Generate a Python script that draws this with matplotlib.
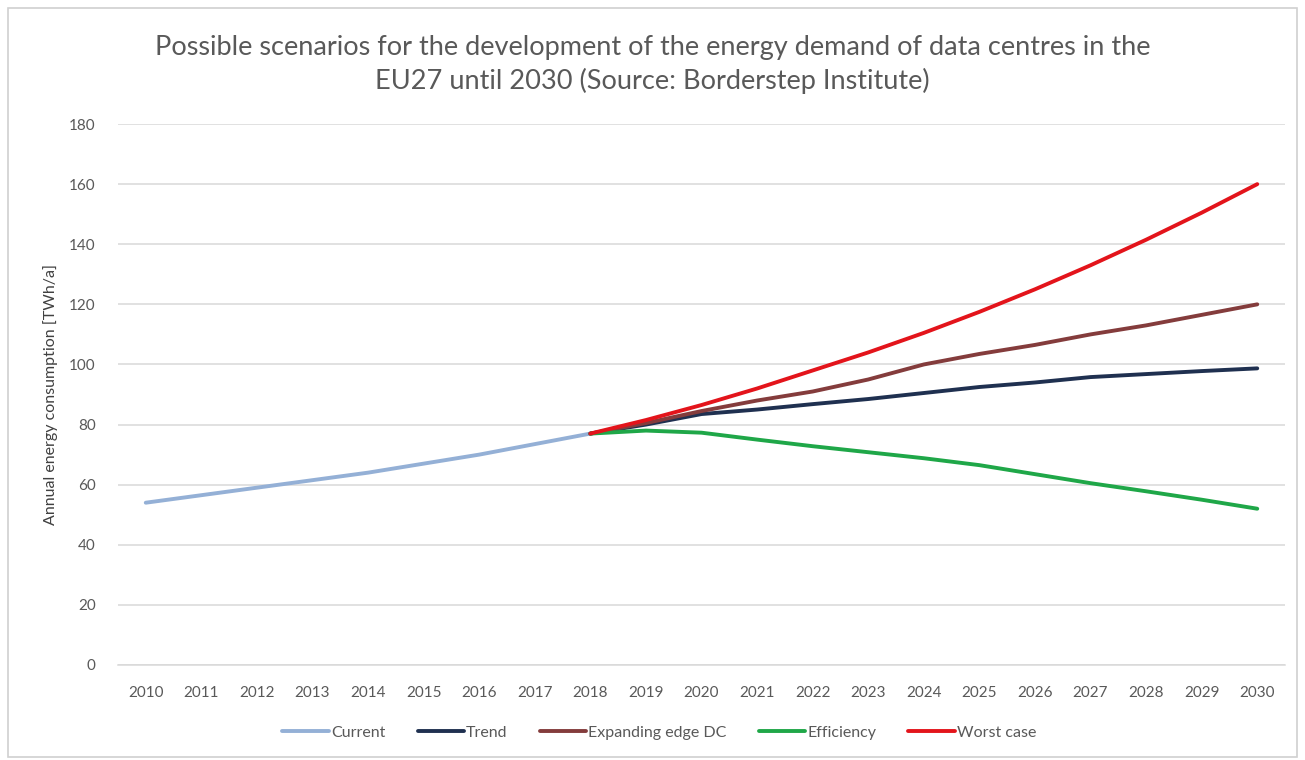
import matplotlib
matplotlib.use("Agg")
import matplotlib.pyplot as plt
from matplotlib.patches import Rectangle

years = list(range(2010, 2031))
current_years = list(range(2010, 2019))
scenario_years = list(range(2018, 2031))

current = [54, 56.5, 59, 61.5, 64, 67, 70, 73.5, 77]
trend = [77, 80, 83.5, 85, 86.8, 88.5, 90.5, 92.5, 94, 95.8, 96.8, 97.8, 98.7]
expanding = [77, 80.5, 84.5, 88, 91, 95, 100, 103.5, 106.5, 110, 113, 116.5, 120]
efficiency = [77, 78, 77.3, 75, 72.8, 70.8, 68.8, 66.5, 63.5, 60.5, 57.8, 55, 52]
worst = [77, 81.5, 86.5, 92, 98, 104, 110.5, 117.5, 125, 133, 141.5, 150.5, 160]

series_names = ["Current", "Trend", "Expanding edge DC", "Efficiency", "Worst case"]
colors = ["#94B0D6", "#1F3050", "#843C3C", "#1FA748", "#E3141B"]

title = ("Possible scenarios for the development of the energy demand of data centres in the\n"
         "EU27 until 2030 (Source: Borderstep Institute)")
ylabel = "Annual energy consumption [TWh/a]"

plt.rcParams['font.family'] = ['Lato', 'DejaVu Sans']

fig = plt.figure(figsize=(13.05, 7.6), dpi=100)
fig.patch.set_facecolor("white")
fig.add_artist(Rectangle((0.006, 0.004), 0.988, 0.985, transform=fig.transFigure,
                         fill=False, edgecolor="#D0D0D0", linewidth=1.2))

ax = fig.add_axes([0.0904, 0.125, 0.8943, 0.7118])
lw = 2.8
ax.plot(current_years, current, color=colors[0], lw=lw, label=series_names[0], solid_capstyle="round")
ax.plot(scenario_years, trend, color=colors[1], lw=lw, label=series_names[1], solid_capstyle="round")
ax.plot(scenario_years, expanding, color=colors[2], lw=lw, label=series_names[2], solid_capstyle="round")
ax.plot(scenario_years, efficiency, color=colors[3], lw=lw, label=series_names[3], solid_capstyle="round")
ax.plot(scenario_years, worst, color=colors[4], lw=lw, label=series_names[4], solid_capstyle="round")

ax.set_xlim(2009.5, 2030.5)
ax.set_ylim(0, 180)
ax.set_yticks(range(0, 181, 20))
ax.set_xticks(years)
ax.set_xticklabels([str(y) for y in years])
ax.grid(axis="y", color="#D9D9D9", lw=1.1)
ax.set_axisbelow(True)
for s in ["top", "right", "left"]:
    ax.spines[s].set_visible(False)
ax.spines["bottom"].set_color("#D9D9D9")
ax.spines["bottom"].set_linewidth(1.1)
ax.tick_params(axis="both", length=0, labelsize=11, labelcolor="#595959")
ax.tick_params(axis="x", pad=15)
ax.tick_params(axis="y", pad=16)
ax.set_ylabel(ylabel, fontsize=11.5, color="#404040", labelpad=8)

fig.text(0.5, 0.915, title, fontsize=19.5, color="#595959", ha="center", va="center",
         linespacing=1.38)

leg = ax.legend(loc="center", bbox_to_anchor=(0.464, -0.125), ncol=5, frameon=False,
                fontsize=11.5, handlelength=2.9, handletextpad=0.15, columnspacing=2.0)
for t in leg.get_texts():
    t.set_color("#595959")

fig.savefig("out.png", dpi=100, facecolor="white")
